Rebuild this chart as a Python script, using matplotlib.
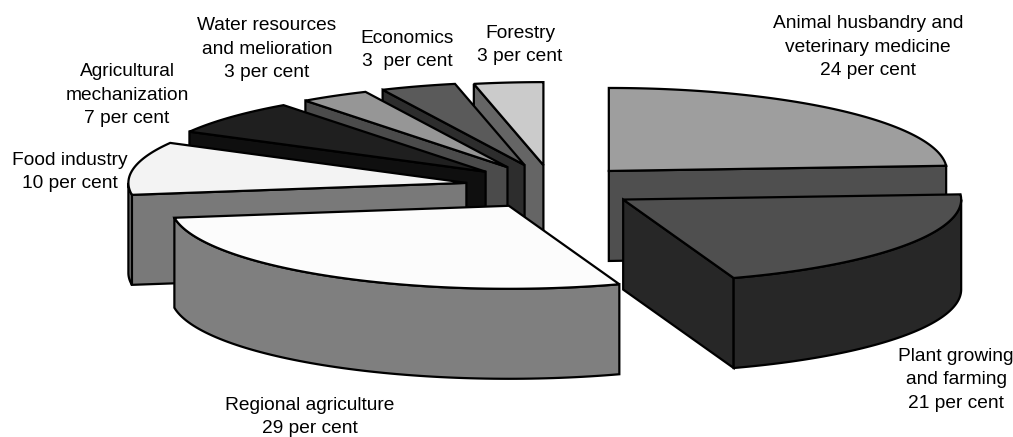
import numpy as np
import matplotlib
matplotlib.use("Agg")
import matplotlib.pyplot as plt
from matplotlib.patches import Polygon

plt.rcParams['font.family'] = ['Liberation Sans', 'DejaVu Sans']

categories = ["Animal husbandry and\nveterinary medicine\n24 per cent",
              "Plant growing\nand farming\n21 per cent",
              "Regional agriculture\n29 per cent",
              "Food industry\n10 per cent",
              "Agricultural\nmechanization\n7 per cent",
              "Water resources\nand melioration\n3 per cent",
              "Economics\n3  per cent",
              "Forestry\n3 per cent"]
# shares as drawn in the picture
values = [24.0, 20.7, 28.0, 10.3, 6.8, 3.3, 3.6, 3.3]
top_colors = ["#9e9e9e", "#4f4f4f", "#fcfcfc", "#f3f3f3", "#1f1f1f", "#969696", "#5a5a5a", "#cbcbcb"]
side_colors = ["#4f4f4f", "#272727", "#7f7f7f", "#797979", "#0f0f0f", "#4b4b4b", "#2d2d2d", "#656565"]
explode = [83, 85.5, 83, 87, 88, 87, 87, 83]
label_x = [868, 956, 310, 70, 127, 267, 407, 520]
label_y = [47, 380, 417, 172, 95, 49, 50, 45]
draw_order = [7, 6, 5, 4, 3, 0, 2, 1]

CX, CY, RX, RY, DEPTH = 552, 187, 338, 83, 90
EY_RATIO = 22 / 83
LW = 1.6

fig = plt.figure(figsize=(10.13, 4.37), dpi=100)
ax = fig.add_axes([0, 0, 1, 1])
ax.set_xlim(0, 1013)
ax.set_ylim(437, 0)
ax.axis("off")

edges = np.cumsum([0] + values) / sum(values) * 360.0


def rim(apex, a, b, dz=0.0, n=80):
    t = np.radians(np.linspace(a, b, n))
    return np.column_stack([apex[0] + RX * np.sin(t), apex[1] - RY * np.cos(t) + dz])


def face(pts, color, z):
    ax.add_patch(Polygon(pts, closed=True, facecolor=color, edgecolor="black",
                         linewidth=LW, joinstyle="miter", zorder=z))


for order, i in enumerate(draw_order):
    a, b = edges[i], edges[i + 1]
    mid = np.radians((a + b) / 2)
    apex = np.array([CX + explode[i] * np.sin(mid), CY - explode[i] * EY_RATIO * np.cos(mid)])
    z = 2 + order
    # radial faces seen from the front
    for ang, visible in ((a, np.sin(np.radians(a)) < -1e-6), (b, np.sin(np.radians(b)) > 1e-6)):
        if visible:
            p = rim(apex, ang, ang, n=1)[0]
            face([apex, p, p + [0, DEPTH], apex + [0, DEPTH]], side_colors[i], z)
    # outer wall on the front half
    lo, hi = max(a, 90), min(b, 270)
    if hi > lo:
        face(np.vstack([rim(apex, lo, hi), rim(apex, hi, lo, DEPTH)]), side_colors[i], z)
    # top surface
    face(np.vstack([[apex], rim(apex, a, b)]), top_colors[i], z)

for txt, x, y in zip(categories, label_x, label_y):
    ax.text(x, y, txt, ha="center", va="center", fontsize=13.8, color="black",
            linespacing=1.5, zorder=50)

fig.savefig("out.png", dpi=100, facecolor="white")
